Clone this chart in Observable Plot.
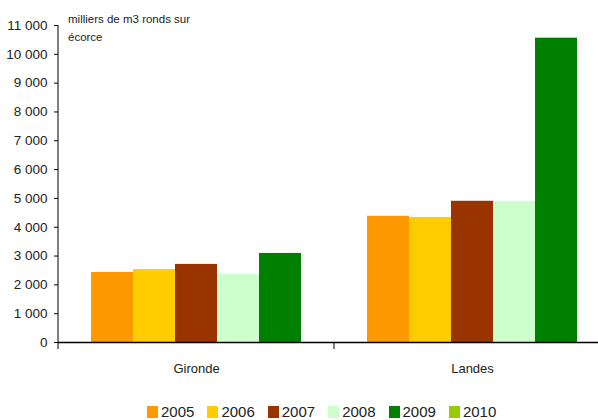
<!DOCTYPE html>
<html>
<head>
<meta charset="utf-8">
<script src="https://cdn.jsdelivr.net/npm/d3@7"></script>
<script src="https://cdn.jsdelivr.net/npm/@observablehq/plot@0.6"></script>
<style>
  html, body { margin: 0; padding: 0; background: #fff; overflow: hidden; }
  #wrap { position: relative; width: 598px; height: 420px; overflow: hidden;
          font-family: 'Liberation Sans', Arial, sans-serif; color: #222; }
  #chart svg { max-width: none !important; }
  #unit { position: absolute; left: 68px; top: 10px; width: 130px; font-size: 11.5px; line-height: 18px; }
  #legend { position: absolute; left: 147px; top: 403px; display: flex; align-items: center; font-size: 15px; }
  .item { display: flex; align-items: center; margin-right: 13px; }
  .sw { width: 11px; height: 12px; margin-right: 3px; }
</style>
</head>
<body>
<div id="wrap">
  <div id="chart"></div>
  <div id="unit">milliers de m3 ronds sur écorce</div>
  <div id="legend"></div>
</div>
<script>
const categories = ["Gironde", "Landes"];
const years = ["2005", "2006", "2007", "2008", "2009", "2010"];
const colors = ["#FF9900", "#FFCC00", "#993300", "#CCFFCC", "#008000", "#99CC00"];
const gironde = [2430, 2530, 2710, 2370, 3090, null];
const landes = [4380, 4340, 4900, 4890, 10560, null];
const yTicks = [0, 1000, 2000, 3000, 4000, 5000, 6000, 7000, 8000, 9000, 10000, 11000];

const series = { Gironde: gironde, Landes: landes };
const data = [];
for (const c of categories) {
  series[c].forEach((v, i) => { if (v != null) data.push({ cat: c, year: years[i], value: v }); });
}
const yearsWithData = years.filter(y => data.some(d => d.year === y));
const fmt = d => d3.format(",")(d).replace(/,/g, "\u00a0");

const plot = Plot.plot({
  width: 610,
  height: 385,
  marginLeft: 58,
  marginRight: 0,
  marginTop: 25,
  marginBottom: 43,
  style: { fontFamily: "'Liberation Sans', Arial, sans-serif", color: "#222", background: "transparent", maxWidth: "none" },
  fx: { domain: categories, padding: 0, label: null },
  x: { domain: yearsWithData, paddingInner: 0, paddingOuter: 0.72, axis: null },
  y: { domain: [0, 11000], label: null },
  color: { domain: years, range: colors },
  marks: [
    Plot.barY(data, { fx: "cat", x: "year", y: "value", fill: "year" }),
    Plot.ruleY([0], { stroke: "#000", strokeWidth: 1.5 }),
    Plot.axisY({ ticks: yTicks, tickFormat: fmt, tickSize: 4, tickPadding: 7, fontSize: 13.5, label: null, stroke: "#000" }),
    Plot.axisFx({ anchor: "bottom", tickSize: 0, tickPadding: 21, fontSize: 13, label: null })
  ]
});
document.getElementById("chart").appendChild(plot);

// axis lines drawn from the plot's own scales
const fx = plot.scale("fx"), y = plot.scale("y");
const svg = d3.select(plot);
const x0 = fx.apply(categories[0]);
svg.append("line").attr("x1", x0).attr("x2", x0)
  .attr("y1", y.apply(11000)).attr("y2", y.apply(0) + 7)
  .attr("stroke", "#000").attr("stroke-width", 1);
for (const c of categories.slice(1)) {
  const xb = fx.apply(c);
  svg.append("line").attr("x1", xb).attr("x2", xb)
    .attr("y1", y.apply(0)).attr("y2", y.apply(0) + 7)
    .attr("stroke", "#000").attr("stroke-width", 1);
}

const legend = d3.select("#legend");
years.forEach((yr, i) => {
  const it = legend.append("div").attr("class", "item");
  it.append("div").attr("class", "sw").style("background", colors[i]);
  it.append("span").text(yr);
});
</script>
</body>
</html>
